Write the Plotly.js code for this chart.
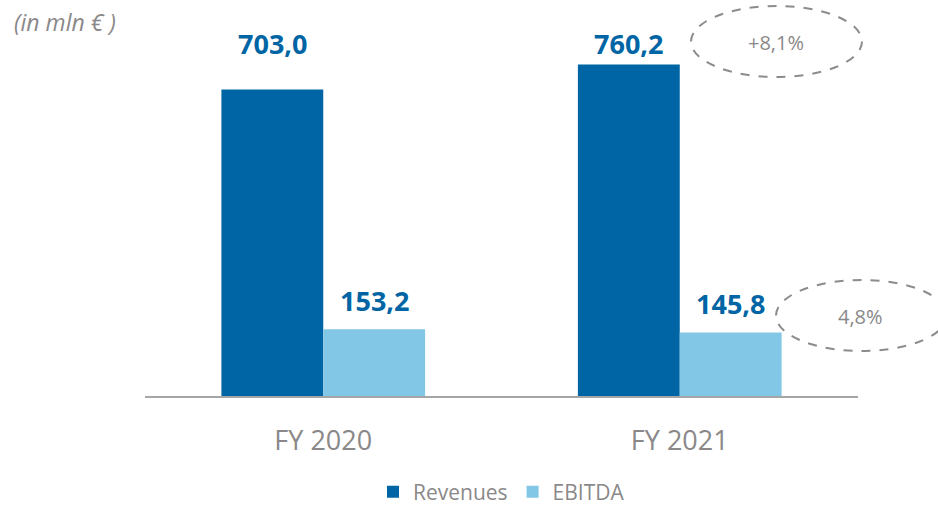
<!DOCTYPE html>
<html>
<head>
<meta charset="utf-8">
<script src="https://cdn.plot.ly/plotly-3.0.1.min.js"></script>
<style>html,body{margin:0;padding:0;background:#fff;}#chart{width:938px;height:508px;}</style>
</head>
<body>
<div id="chart"></div>
<script>
const categories = ['FY 2020', 'FY 2021'];
const revenues = [703.0, 760.2];
const ebitda = [153.2, 145.8];
const seriesNames = ['Revenues', 'EBITDA'];
const growthLabel = '+8,1%';
const marginLabel = '4,8%';
const unitLabel = '(in mln € )';

const fmt = v => v.toFixed(1).replace('.', ',');
const DARK = '#0065a4', LIGHT = '#82c7e6', GRAY = '#8a8888';
const FONT = 'Open Sans, Lato, sans-serif';

const traces = [
  {type: 'bar', name: seriesNames[0], x: categories, y: revenues, marker: {color: DARK}, hoverinfo: 'none'},
  {type: 'bar', name: seriesNames[1], x: categories, y: ebitda, marker: {color: LIGHT}, hoverinfo: 'none'}
];

const annotations = [];
categories.forEach((c, i) => {
  annotations.push({x: c, xref: 'x', xshift: -51, y: 0.891, yref: 'paper', yanchor: 'middle',
    text: '<b>' + fmt(revenues[i]) + '</b>', showarrow: false,
    font: {family: FONT, size: 27, color: DARK}});
  annotations.push({x: c, xref: 'x', xshift: 51, y: ebitda[i], yref: 'y', yanchor: 'middle', yshift: 29,
    text: '<b>' + fmt(ebitda[i]) + '</b>', showarrow: false,
    font: {family: FONT, size: 27, color: DARK}});
});
annotations.push({x: (776 - 145) / 713, xref: 'paper', y: (396 - 43) / 396, yref: 'paper',
  xanchor: 'center', yanchor: 'middle', text: growthLabel, showarrow: false,
  font: {family: FONT, size: 20, color: GRAY}});
annotations.push({x: (860 - 145) / 713, xref: 'paper', y: (396 - 316) / 396, yref: 'paper',
  xanchor: 'center', yanchor: 'middle', text: marginLabel, showarrow: false,
  font: {family: FONT, size: 20, color: GRAY}});
annotations.push({x: (12 - 145) / 713, xref: 'paper', y: (396 - 22) / 396, yref: 'paper',
  xanchor: 'left', yanchor: 'middle', text: '<i>' + unitLabel + '</i>', showarrow: false,
  font: {family: FONT, size: 23, color: GRAY}});

const px = v => (v - 145) / 713;
const py = v => (396 - v) / 396;
const shapes = [
  {type: 'circle', xref: 'paper', yref: 'paper', x0: px(691), x1: px(862), y0: py(77), y1: py(6),
   line: {color: '#8c8c8c', width: 2, dash: 'dash'}},
  {type: 'circle', xref: 'paper', yref: 'paper', x0: px(776), x1: px(947), y0: py(351), y1: py(280),
   line: {color: '#8c8c8c', width: 2, dash: 'dash'}}
];

const layout = {
  width: 938, height: 508,
  margin: {l: 145, r: 80, t: 0, b: 112, autoexpand: false},
  paper_bgcolor: '#fff', plot_bgcolor: '#fff',
  barmode: 'group', bargap: 0.4286, bargroupgap: 0,
  xaxis: {type: 'category', range: [-0.5, 1.5], showline: true, linecolor: '#a6a6a6', linewidth: 2,
    ticks: '', showgrid: false, zeroline: false, fixedrange: true, ticklabelstandoff: 20,
    tickfont: {family: FONT, size: 27, color: GRAY}},
  yaxis: {range: [0, 908], visible: false, showgrid: false, zeroline: false, fixedrange: true},
  showlegend: true,
  legend: {orientation: 'h', x: 0.5, xanchor: 'center', y: -(492 - 396) / 396, yanchor: 'middle',
    bgcolor: 'rgba(0,0,0,0)', font: {family: FONT, size: 21, color: GRAY}, itemclick: false, itemdoubleclick: false},
  annotations: annotations,
  shapes: shapes
};

Plotly.newPlot('chart', traces, layout, {displayModeBar: false, staticPlot: true});
</script>
</body>
</html>
